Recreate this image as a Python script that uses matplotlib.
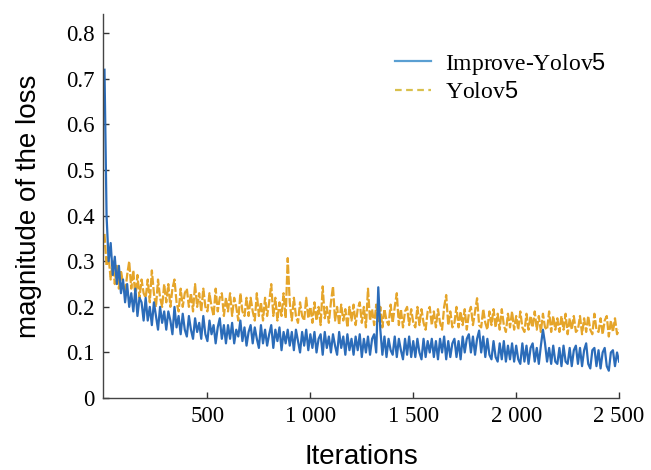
import matplotlib

matplotlib.use("Agg")
import matplotlib.pyplot as plt
from matplotlib.lines import Line2D
import numpy as np

# iteration grid: every 10 iterations from 0 to 2500
STEP = 10
N_POINTS = 251

IMPROVE_LOSS = [
    0.72, 0.40, 0.30, 0.34, 0.27, 0.31, 0.25, 0.29, 0.23, 0.26,
    0.21, 0.25, 0.20, 0.23, 0.19, 0.24, 0.18, 0.22, 0.21, 0.17,
    0.22, 0.17, 0.20, 0.16, 0.21, 0.18, 0.15, 0.20, 0.165, 0.19,
    0.15, 0.19, 0.17, 0.14, 0.20, 0.155, 0.18, 0.14, 0.185, 0.15,
    0.135, 0.18, 0.15, 0.13, 0.175, 0.145, 0.165, 0.13, 0.18, 0.14,
    0.125, 0.17, 0.14, 0.16, 0.12, 0.155, 0.175, 0.13, 0.16, 0.12,
    0.16, 0.13, 0.165, 0.12, 0.15, 0.135, 0.17, 0.125, 0.155, 0.115,
    0.145, 0.16, 0.12, 0.155, 0.13, 0.11, 0.16, 0.12, 0.15, 0.115,
    0.14, 0.16, 0.11, 0.15, 0.125, 0.155, 0.105, 0.145, 0.12, 0.15,
    0.115, 0.145, 0.105, 0.15, 0.125, 0.10, 0.145, 0.115, 0.15, 0.105,
    0.14, 0.11, 0.145, 0.10, 0.13, 0.14, 0.095, 0.145, 0.11, 0.135,
    0.10, 0.14, 0.115, 0.095, 0.145, 0.11, 0.135, 0.095, 0.14, 0.105,
    0.13, 0.095, 0.135, 0.105, 0.14, 0.09, 0.13, 0.10, 0.135, 0.095,
    0.13, 0.14, 0.10, 0.243, 0.15, 0.095, 0.135, 0.09, 0.13, 0.105,
    0.095, 0.135, 0.09, 0.13, 0.105, 0.085, 0.13, 0.095, 0.135, 0.09,
    0.125, 0.09, 0.13, 0.10, 0.085, 0.13, 0.09, 0.125, 0.10, 0.13,
    0.09, 0.125, 0.085, 0.13, 0.10, 0.135, 0.085, 0.125, 0.09, 0.12,
    0.13, 0.09, 0.125, 0.085, 0.135, 0.10, 0.13, 0.14, 0.10, 0.135,
    0.095, 0.13, 0.148, 0.10, 0.135, 0.09, 0.13, 0.095, 0.085, 0.125,
    0.09, 0.08, 0.12, 0.085, 0.125, 0.08, 0.115, 0.085, 0.12, 0.08,
    0.115, 0.085, 0.075, 0.12, 0.08, 0.115, 0.075, 0.11, 0.12, 0.08,
    0.11, 0.075, 0.115, 0.15, 0.12, 0.08, 0.11, 0.075, 0.115, 0.08,
    0.075, 0.11, 0.07, 0.115, 0.08, 0.075, 0.11, 0.07, 0.105, 0.115,
    0.075, 0.11, 0.07, 0.105, 0.12, 0.075, 0.065, 0.105, 0.11, 0.07,
    0.105, 0.065, 0.10, 0.11, 0.07, 0.06, 0.10, 0.105, 0.07, 0.10,
    0.08,
]

YOLO_LOSS = [
    0.36, 0.29, 0.31, 0.26, 0.30, 0.25, 0.29, 0.24, 0.28, 0.25,
    0.23, 0.27, 0.30, 0.24, 0.28, 0.22, 0.27, 0.22, 0.26, 0.23,
    0.22, 0.26, 0.21, 0.28, 0.23, 0.20, 0.26, 0.22, 0.20, 0.25,
    0.21, 0.25, 0.20, 0.24, 0.26, 0.21, 0.19, 0.24, 0.20, 0.23,
    0.24, 0.20, 0.23, 0.19, 0.25, 0.20, 0.23, 0.19, 0.24, 0.20,
    0.19, 0.23, 0.20, 0.18, 0.24, 0.19, 0.22, 0.23, 0.18, 0.22,
    0.19, 0.23, 0.18, 0.22, 0.20, 0.17, 0.23, 0.19, 0.18, 0.22,
    0.18, 0.22, 0.19, 0.17, 0.23, 0.18, 0.21, 0.17, 0.22, 0.18,
    0.21, 0.25, 0.18, 0.22, 0.17, 0.21, 0.18, 0.23, 0.175, 0.307,
    0.21, 0.17, 0.22, 0.18, 0.165, 0.21, 0.18, 0.17, 0.22, 0.175,
    0.20, 0.165, 0.21, 0.17, 0.20, 0.16, 0.245, 0.175, 0.20, 0.165,
    0.21, 0.245, 0.17, 0.20, 0.16, 0.205, 0.17, 0.195, 0.155, 0.20,
    0.17, 0.205, 0.16, 0.195, 0.21, 0.165, 0.20, 0.155, 0.24, 0.17,
    0.195, 0.16, 0.205, 0.165, 0.20, 0.155, 0.195, 0.17, 0.16, 0.205,
    0.165, 0.20, 0.23, 0.16, 0.195, 0.155, 0.19, 0.20, 0.16, 0.195,
    0.165, 0.155, 0.20, 0.16, 0.195, 0.165, 0.15, 0.19, 0.20, 0.16,
    0.19, 0.155, 0.195, 0.165, 0.15, 0.20, 0.226, 0.16, 0.19, 0.155,
    0.165, 0.20, 0.155, 0.19, 0.16, 0.195, 0.15, 0.185, 0.20, 0.16,
    0.19, 0.219, 0.16, 0.155, 0.195, 0.165, 0.15, 0.19, 0.16, 0.195,
    0.155, 0.185, 0.15, 0.195, 0.16, 0.145, 0.185, 0.155, 0.19, 0.15,
    0.18, 0.15, 0.19, 0.155, 0.145, 0.185, 0.15, 0.18, 0.155, 0.19,
    0.15, 0.18, 0.145, 0.185, 0.155, 0.15, 0.19, 0.145, 0.18, 0.15,
    0.175, 0.145, 0.18, 0.15, 0.185, 0.14, 0.175, 0.15, 0.18, 0.145,
    0.15, 0.18, 0.14, 0.175, 0.145, 0.18, 0.15, 0.14, 0.185, 0.15,
    0.145, 0.175, 0.14, 0.17, 0.18, 0.135, 0.17, 0.145, 0.175, 0.14,
    0.15,
]

X_TICKS = [500, 1000, 1500, 2000, 2500]
X_TICK_LABELS = ["500", "1 000", "1 500", "2 000", "2 500"]
Y_TICKS = [0, 0.1, 0.2, 0.3, 0.4, 0.5, 0.6, 0.7, 0.8]
Y_TICK_LABELS = ["0", "0.1", "0.2", "0.3", "0.4", "0.5", "0.6", "0.7", "0.8"]

BLUE = "#2b6cb9"
ORANGE = "#e5a52a"

plt.rcParams["mathtext.fontset"] = "custom"
plt.rcParams["mathtext.rm"] = "Liberation Serif"
plt.rcParams["mathtext.sf"] = "Liberation Sans"

iters = np.arange(N_POINTS) * STEP

fig = plt.figure(figsize=(6.51, 4.70), dpi=100)
ax = fig.add_axes([0.158, 0.153, 0.793, 0.817])

ax.plot(iters, YOLO_LOSS, color=ORANGE, lw=1.6, ls=(0, (4, 1)))
ax.plot(iters, IMPROVE_LOSS, color=BLUE, lw=1.6)

ax.set_xlim(-8, 2500)
ax.set_ylim(0, 0.842)

ax.set_xticks(X_TICKS)
ax.set_xticklabels(X_TICK_LABELS)
ax.set_yticks(Y_TICKS)
ax.set_yticklabels(Y_TICK_LABELS)
for lab in ax.get_xticklabels() + ax.get_yticklabels():
    lab.set_family("Liberation Serif")
    lab.set_fontsize(16.5)
ax.tick_params(direction="in", length=4, width=1, color="#333", pad=6)

for s in ("top", "right"):
    ax.spines[s].set_visible(False)
for s in ("left", "bottom"):
    ax.spines[s].set_color("#444")
    ax.spines[s].set_linewidth(1.0)

ax.set_xlabel("Iterations", family="Liberation Sans", fontsize=20, labelpad=12)
ax.set_ylabel("magnitude of the loss", family="Liberation Sans", fontsize=20,
              labelpad=17)

handles = [
    Line2D([], [], color="#5a9fd2", lw=1.6),
    Line2D([], [], color="#d9c04c", lw=1.6, ls=(0, (3, 2))),
]
labels = [r"Improve-Yolov$\mathsf{5}$", r"Yolov$\mathsf{5}$"]
ax.legend(handles, labels, loc="upper left", bbox_to_anchor=(0.607, 0.892),
          bbox_transform=fig.transFigure, frameon=False,
          prop={"family": "Liberation Serif", "size": 17},
          handlelength=1.5, handletextpad=0.6, labelspacing=0.2,
          borderpad=0, borderaxespad=0)

fig.savefig("out.png", dpi=100)
